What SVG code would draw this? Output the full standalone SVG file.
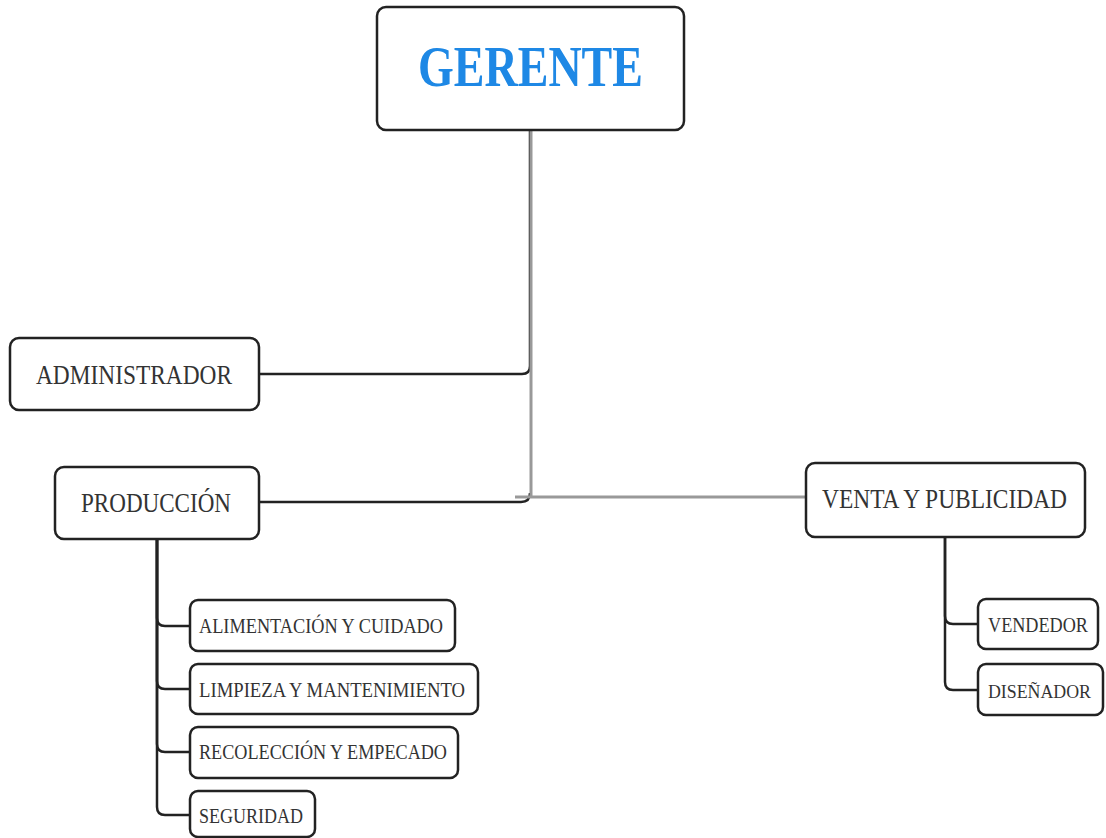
<svg xmlns="http://www.w3.org/2000/svg" width="1106" height="838" viewBox="0 0 1106 838">
<style>
.box{fill:#fff;stroke:#222;stroke-width:2.5}
.t{font-family:"Liberation Serif","DejaVu Serif",serif;fill:#333;text-anchor:start}
.big{font-size:27px}
.small{font-size:21px}
.c{fill:none;stroke:#222;stroke-width:2.5}
.g{fill:none;stroke:#999;stroke-width:3}
</style>
<rect width="1106" height="838" fill="#fff"/>
<g id="connectors">
<path class="c" d="M259,374 H522 Q530,374 530,366 V130"/>
<path class="c" d="M259,502 H521 Q530,502 530,493"/>
<path class="g" d="M531,130 V497 M515,497 H806"/>
<path class="c" d="M157,539 V618 Q157,626 165,626 H190"/>
<path class="c" d="M157,539 V681 Q157,689 165,689 H190"/>
<path class="c" d="M157,539 V744 Q157,752 165,752 H190"/>
<path class="c" d="M157,539 V807 Q157,815 165,815 H190"/>
<path class="c" d="M945,537 V616 Q945,624 953,624 H978"/>
<path class="c" d="M945,537 V682 Q945,690 953,690 H978"/>
</g>
<g id="gerente">
<rect class="box" x="377" y="7" width="307" height="123" rx="9"/>
<text x="418" y="86" font-family="Liberation Serif,DejaVu Serif,serif" font-weight="bold" font-size="58" fill="#1E88E5" textLength="225" lengthAdjust="spacingAndGlyphs">GERENTE</text>
</g>
<g id="administrador">
<rect class="box" x="10" y="338" width="249" height="72" rx="9"/>
<text class="t big" x="36" y="384" textLength="196" lengthAdjust="spacingAndGlyphs">ADMINISTRADOR</text>
</g>
<g id="produccion">
<rect class="box" x="55" y="467" width="204" height="72" rx="9"/>
<text class="t big" x="81" y="512" textLength="150" lengthAdjust="spacingAndGlyphs">PRODUCCIÓN</text>
</g>
<g id="venta">
<rect class="box" x="806" y="463" width="279" height="74" rx="9"/>
<text class="t big" x="822" y="508" textLength="245" lengthAdjust="spacingAndGlyphs">VENTA Y PUBLICIDAD</text>
</g>
<g id="alimentacion">
<rect class="box" x="190" y="600" width="265" height="51" rx="8"/>
<text class="t small" x="199" y="633" textLength="244" lengthAdjust="spacingAndGlyphs">ALIMENTACIÓN Y CUIDADO</text>
</g>
<g id="limpieza">
<rect class="box" x="190" y="664" width="288" height="50" rx="8"/>
<text class="t small" x="199" y="697" textLength="266" lengthAdjust="spacingAndGlyphs">LIMPIEZA Y MANTENIMIENTO</text>
</g>
<g id="recoleccion">
<rect class="box" x="190" y="727" width="268" height="51" rx="8"/>
<text class="t small" x="199" y="759" textLength="248" lengthAdjust="spacingAndGlyphs">RECOLECCIÓN Y EMPECADO</text>
</g>
<g id="seguridad">
<rect class="box" x="190" y="791" width="125" height="46" rx="8"/>
<text class="t small" x="199" y="823" textLength="104" lengthAdjust="spacingAndGlyphs">SEGURIDAD</text>
</g>
<g id="vendedor">
<rect class="box" x="978" y="599" width="120" height="50" rx="8"/>
<text class="t small" x="988" y="632" textLength="100" lengthAdjust="spacingAndGlyphs">VENDEDOR</text>
</g>
<g id="disenador">
<rect class="box" x="978" y="664" width="125" height="51" rx="8"/>
<text class="t" x="988" y="698" font-size="18.5" textLength="103" lengthAdjust="spacingAndGlyphs">DISEÑADOR</text>
</g>
</svg>
